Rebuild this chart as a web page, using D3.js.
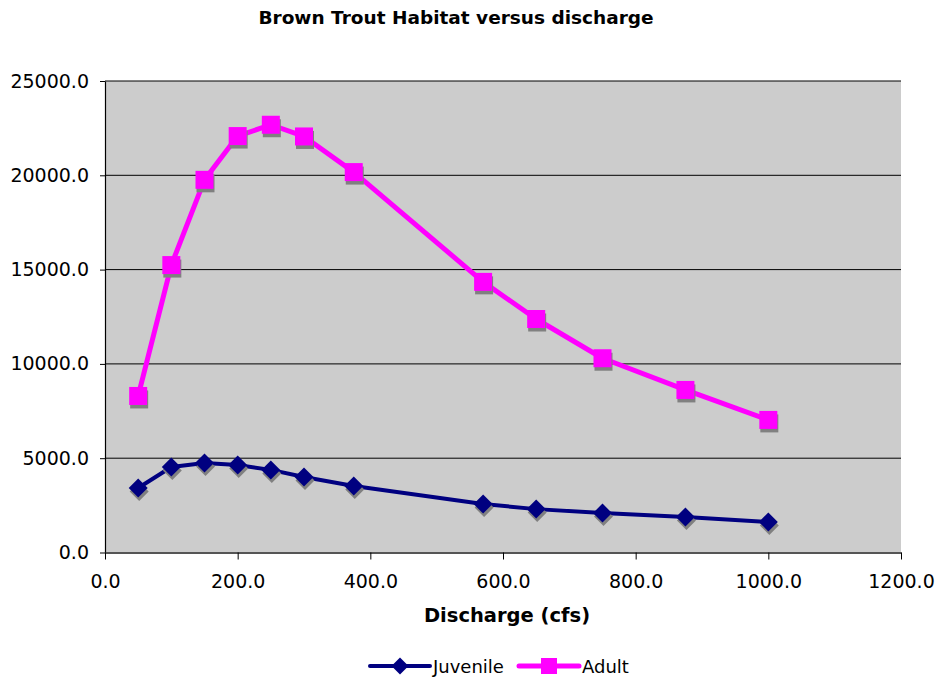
<!DOCTYPE html>
<html>
<head>
<meta charset="utf-8">
<script src="https://cdn.jsdelivr.net/npm/d3@7"></script>
<style>
  html, body { margin: 0; padding: 0; background: #fff; }
  svg { display: block; font-family: "DejaVu Sans", Verdana, sans-serif; }
</style>
</head>
<body>
<svg id="chart" width="939" height="681"></svg>
<script>
// Discharge (cfs) at each survey flow
const discharge = [50, 100, 150, 200, 250, 300, 375, 570, 650, 750, 875, 1000];
// Weighted usable habitat by life stage
const juvenile = [3420, 4530, 4750, 4640, 4380, 4000, 3530, 2570, 2300, 2090, 1880, 1620];
const adult = [8300, 15240, 19760, 22080, 22680, 22060, 20170, 14350, 12380, 10300, 8620, 7030];
const xTicks = [0, 200, 400, 600, 800, 1000, 1200];
const yTicks = [0, 5000, 10000, 15000, 20000, 25000];
const seriesNames = ["Juvenile", "Adult"];

const svg = d3.select("#chart");
const plot = { left: 105, right: 901, top: 81, bottom: 552.5 };

const x = d3.scaleLinear().domain([0, 1200]).range([plot.left, plot.right]);
const y = d3.scaleLinear().domain([0, 25000]).range([plot.bottom, plot.top]);
const fmt = d3.format(".1f");
const tickFont = 19;

// plot background
svg.append("rect")
  .attr("x", plot.left).attr("y", plot.top)
  .attr("width", plot.right - plot.left).attr("height", plot.bottom - plot.top)
  .attr("fill", "#cccccc");

// horizontal gridlines
svg.append("g").selectAll("line")
  .data(yTicks.filter(d => d > 0))
  .join("line")
  .attr("x1", plot.left).attr("x2", plot.right)
  .attr("y1", d => y(d)).attr("y2", d => y(d))
  .attr("stroke", "#000").attr("stroke-width", 1);

// y axis
const yAxis = svg.append("g")
  .attr("transform", `translate(${plot.left},0)`)
  .call(d3.axisLeft(y).tickValues(yTicks).tickFormat(fmt).tickSize(5).tickSizeOuter(0).tickPadding(11));
yAxis.select(".domain").attr("stroke", "#000").attr("stroke-width", 1.2);
yAxis.selectAll(".tick line").attr("stroke", "#000");
yAxis.selectAll("text").attr("font-size", tickFont).attr("fill", "#000")
  .attr("font-family", "DejaVu Sans, Verdana, sans-serif");

// x axis
const xAxis = svg.append("g")
  .attr("transform", `translate(0,${plot.bottom})`)
  .call(d3.axisBottom(x).tickValues(xTicks).tickFormat(fmt).tickSize(7).tickSizeOuter(0).tickPadding(15));
xAxis.select(".domain").attr("stroke", "#555").attr("stroke-width", 2);
xAxis.selectAll(".tick line").attr("stroke", "#000");
xAxis.selectAll("text").attr("font-size", tickFont).attr("fill", "#000")
  .attr("font-family", "DejaVu Sans, Verdana, sans-serif");

// title and axis label
svg.append("text")
  .attr("x", 456).attr("y", 24)
  .attr("text-anchor", "middle")
  .attr("font-size", 18.5).attr("font-weight", "bold")
  .text("Brown Trout Habitat versus discharge");

svg.append("text")
  .attr("x", 507).attr("y", 622)
  .attr("text-anchor", "middle")
  .attr("font-size", 19.5).attr("font-weight", "bold")
  .text("Discharge (cfs)");

const line = d3.line().x(d => x(d[0])).y(d => y(d[1]));
const juvPts = discharge.map((d, i) => [d, juvenile[i]]);
const adultPts = discharge.map((d, i) => [d, adult[i]]);

const diamond = s => `M0,${-s}L${s},0L0,${s}L${-s},0Z`;
const square = s => `M${-s},${-s}H${s}V${s}H${-s}Z`;

function drawSeries(pts, color, width, shape) {
  const g = svg.append("g");
  g.append("path").datum(pts)
    .attr("d", line).attr("fill", "none")
    .attr("stroke", color).attr("stroke-width", width)
    .attr("stroke-linejoin", "round");
  // marker shadows
  g.selectAll("path.shadow").data(pts).join("path")
    .attr("class", "shadow")
    .attr("d", shape)
    .attr("transform", d => `translate(${x(d[0]) + 1},${y(d[1]) + 3.5})`)
    .attr("fill", "#808080");
  g.selectAll("path.mark").data(pts).join("path")
    .attr("class", "mark")
    .attr("d", shape)
    .attr("transform", d => `translate(${x(d[0])},${y(d[1])})`)
    .attr("fill", color);
}

drawSeries(juvPts, "#000080", 4, diamond(9.5));
drawSeries(adultPts, "#ff00ff", 5, square(9));

// legend
const legend = [
  { name: seriesNames[0], color: "#000080", width: 4, shape: diamond(8.5), x0: 370 },
  { name: seriesNames[1], color: "#ff00ff", width: 5, shape: square(8), x0: 519 }
];
const ly = 666;
legend.forEach(l => {
  svg.append("line")
    .attr("x1", l.x0).attr("x2", l.x0 + 60)
    .attr("y1", ly).attr("y2", ly)
    .attr("stroke", l.color).attr("stroke-width", l.width)
    .attr("stroke-linecap", "round");
  svg.append("path").attr("d", l.shape)
    .attr("transform", `translate(${l.x0 + 30},${ly})`)
    .attr("fill", l.color);
  svg.append("text")
    .attr("x", l.x0 + 63).attr("y", ly + 7)
    .attr("font-size", 18)
    .text(l.name);
});
</script>
</body>
</html>
